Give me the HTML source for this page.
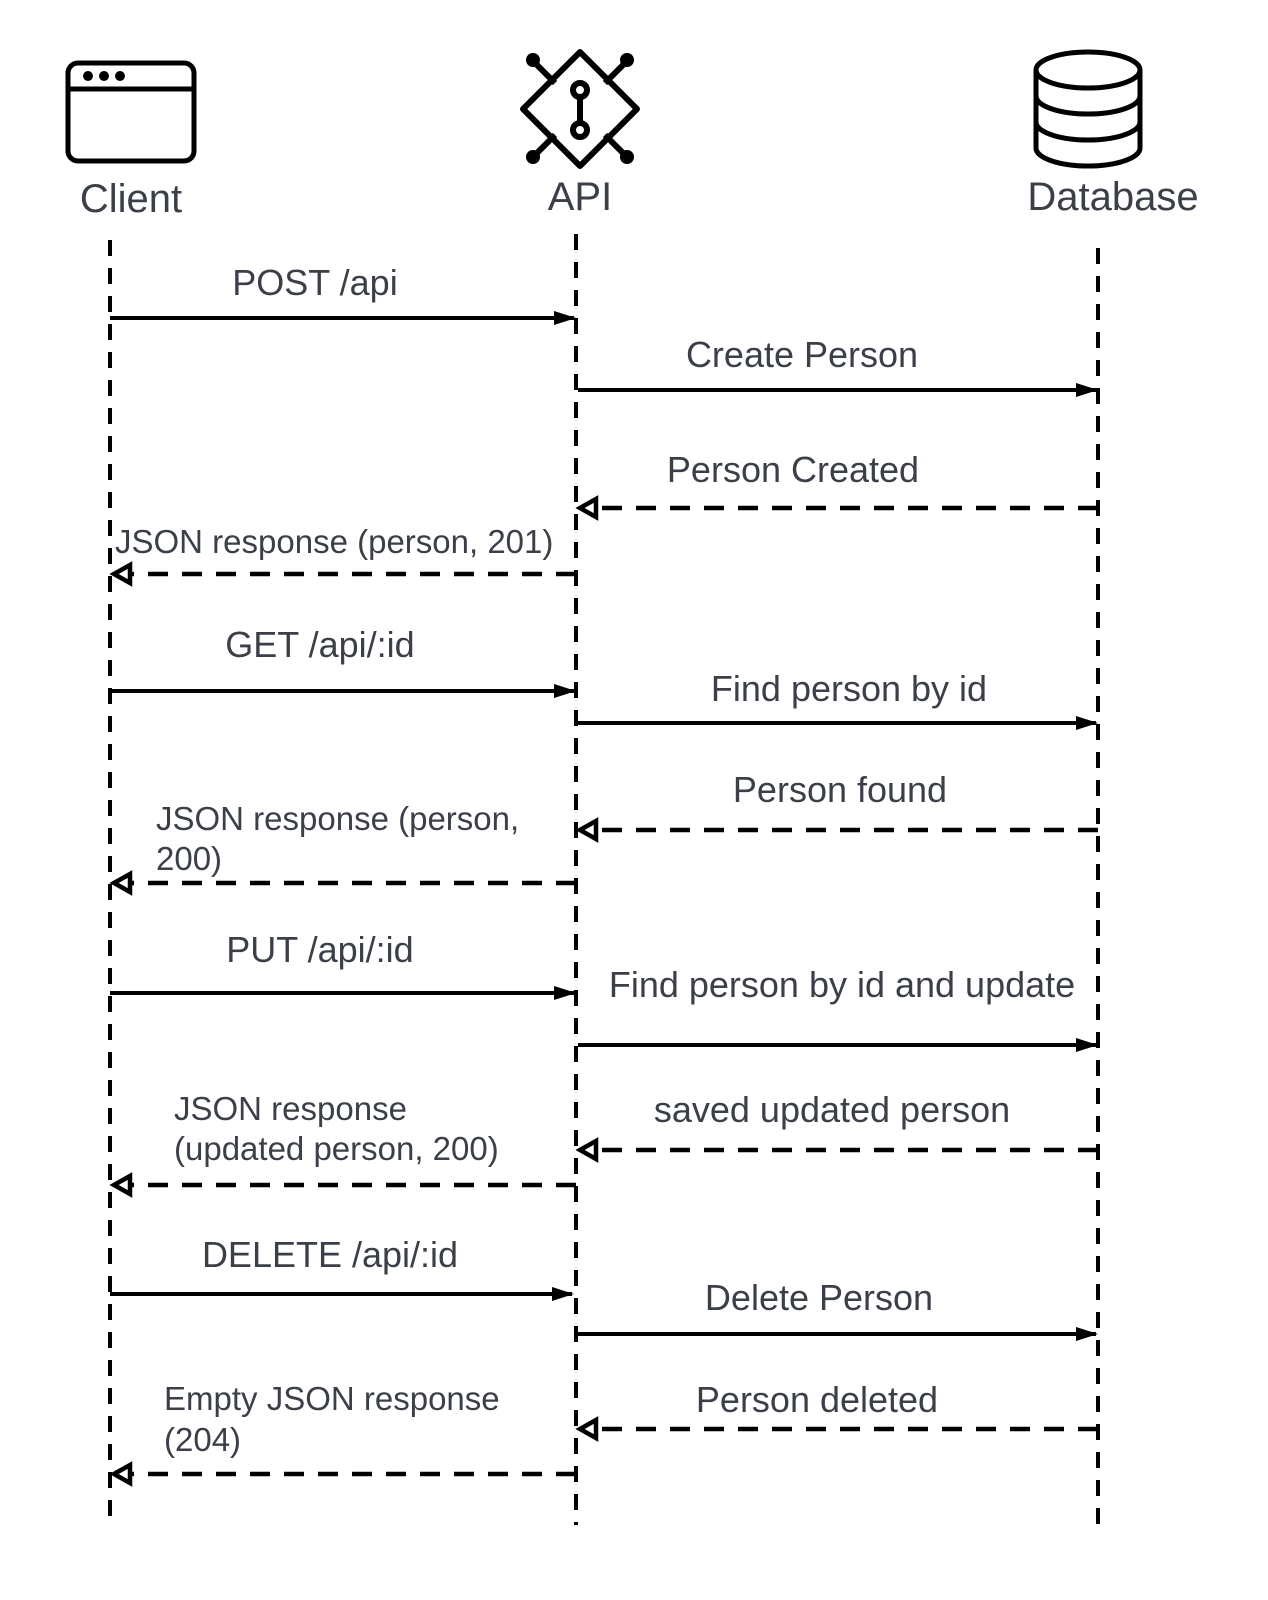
<!DOCTYPE html>
<html><head><style>html,body{margin:0;padding:0;background:#fff}svg{display:block}text{font-family:"Liberation Sans",sans-serif;fill:#3b3f48}</style></head>
<body>
<svg width="1268" height="1600" viewBox="0 0 1268 1600" xmlns="http://www.w3.org/2000/svg">
<defs>
<marker id="f" markerWidth="22" markerHeight="16" refX="20" refY="7" orient="auto" markerUnits="userSpaceOnUse" viewBox="0 0 22 14"><path d="M0,0 L22,7 L0,14 z" fill="#000"/></marker>
</defs>
<!-- Client icon -->
<rect x="68" y="63" width="126" height="98" rx="10" fill="none" stroke="#000" stroke-width="5"/>
<line x1="68" y1="89" x2="194" y2="89" stroke="#000" stroke-width="5"/>
<circle cx="88" cy="76" r="5"/><circle cx="104" cy="76" r="5"/><circle cx="120" cy="76" r="5"/>
<!-- API icon -->
<g stroke="#000" stroke-width="6" fill="none" stroke-linejoin="round">
<path d="M580,52 L637,109 L580,166 L523,109 Z"/>
<line x1="537" y1="65" x2="555" y2="83"/><line x1="623" y1="65" x2="605" y2="83"/>
<line x1="537" y1="153" x2="555" y2="135"/><line x1="623" y1="153" x2="605" y2="135"/>
<circle cx="580" cy="90" r="7"/><circle cx="580" cy="130" r="7"/><line x1="580" y1="97" x2="580" y2="123"/>
</g>
<circle cx="533" cy="60" r="7"/><circle cx="627" cy="60" r="7"/><circle cx="533" cy="157" r="7"/><circle cx="627" cy="157" r="7"/>
<!-- DB icon -->
<g stroke="#000" stroke-width="5" fill="none">
<ellipse cx="1088" cy="70" rx="52" ry="18"/>
<path d="M1036,70 V148 A52,18 0 0 0 1140,148 V70"/>
<path d="M1036,96 A52,18 0 0 0 1140,96"/>
<path d="M1036,122 A52,18 0 0 0 1140,122"/>
</g>
<text x="131" y="212" font-size="40" text-anchor="middle">Client</text>
<text x="580" y="210" font-size="40" text-anchor="middle">API</text>
<text x="1113" y="210" font-size="40" text-anchor="middle">Database</text>
<!-- lifelines -->
<g stroke="#000" stroke-width="4" stroke-dasharray="16 12">
<line x1="110" y1="240" x2="110" y2="1525"/>
<line x1="576" y1="234" x2="576" y2="1525"/>
<line x1="1098" y1="248" x2="1098" y2="1525"/>
</g>
<!-- solid arrows -->
<g stroke="#000" stroke-width="4" marker-end="url(#f)">
<line x1="110" y1="318" x2="574" y2="318"/>
<line x1="578" y1="390" x2="1096" y2="390"/>
<line x1="110" y1="691" x2="574" y2="691"/>
<line x1="578" y1="723" x2="1096" y2="723"/>
<line x1="110" y1="993" x2="574" y2="993"/>
<line x1="578" y1="1045" x2="1096" y2="1045"/>
<line x1="110" y1="1294" x2="572" y2="1294"/>
<line x1="578" y1="1334" x2="1096" y2="1334"/>
</g>
<!-- dashed returns -->
<g stroke="#000" stroke-width="4.5" stroke-dasharray="20 14" fill="none">
<line x1="1098" y1="508" x2="598" y2="508"/>
<line x1="576" y1="574" x2="132" y2="574"/>
<line x1="1098" y1="830" x2="598" y2="830"/>
<line x1="576" y1="883" x2="132" y2="883"/>
<line x1="1098" y1="1150" x2="598" y2="1150"/>
<line x1="576" y1="1185" x2="132" y2="1185"/>
<line x1="1098" y1="1429" x2="598" y2="1429"/>
<line x1="576" y1="1474" x2="132" y2="1474"/>
</g>
<g stroke="#000" stroke-width="4.5" fill="#fff" stroke-linejoin="miter">
<path d="M580,508 L596,499 L596,517 Z"/>
<path d="M114,574 L130,565 L130,583 Z"/>
<path d="M580,830 L596,821 L596,839 Z"/>
<path d="M114,883 L130,874 L130,892 Z"/>
<path d="M580,1150 L596,1141 L596,1159 Z"/>
<path d="M114,1185 L130,1176 L130,1194 Z"/>
<path d="M580,1429 L596,1420 L596,1438 Z"/>
<path d="M114,1474 L130,1465 L130,1483 Z"/>
</g>
<!-- labels -->
<g font-size="36" text-anchor="middle">
<text x="315" y="295">POST /api</text>
<text x="802" y="367">Create Person</text>
<text x="793" y="482">Person Created</text>
<text x="320" y="657">GET /api/:id</text>
<text x="849" y="701">Find person by id</text>
<text x="840" y="802">Person found</text>
<text x="320" y="962">PUT /api/:id</text>
<text x="842" y="997">Find person by id and update</text>
<text x="832" y="1122">saved updated person</text>
<text x="330" y="1267">DELETE /api/:id</text>
<text x="819" y="1310">Delete Person</text>
<text x="817" y="1412">Person deleted</text>
</g>
<g font-size="33">
<text x="115" y="553">JSON response (person, 201)</text>
<text x="156" y="830">JSON response (person,</text>
<text x="156" y="870">200)</text>
<text x="174" y="1120">JSON response</text>
<text x="174" y="1160">(updated person, 200)</text>
<text x="164" y="1410">Empty JSON response</text>
<text x="164" y="1451">(204)</text>
</g>
</svg>
</body></html>
